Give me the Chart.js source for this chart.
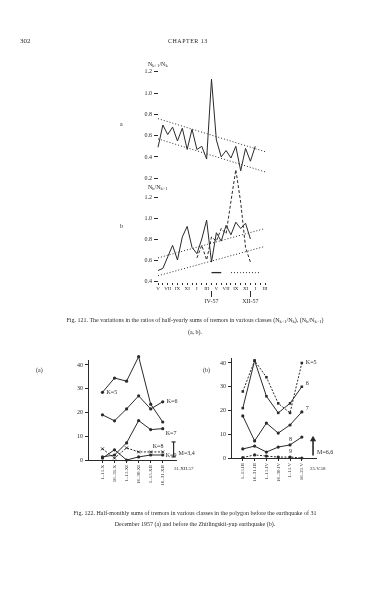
<!DOCTYPE html>
<html>
<head>
<meta charset="utf-8">
<script src="https://cdn.jsdelivr.net/npm/chart.js@4.4.1/dist/chart.umd.min.js"></script>
<style>
  body { margin: 0; background: #fff; }
  #page { position: relative; width: 390px; height: 592px; overflow: hidden; font-family: "Liberation Serif", "DejaVu Serif", serif; color: #2a2a2a; filter: grayscale(1); }
  .t { position: absolute; white-space: nowrap; font-size: 6px; line-height: 1; }
  .cap { position: absolute; font-size: 6px; line-height: 11px; text-align: center; white-space: nowrap; }
  sub { font-size: 4.5px; vertical-align: -1px; }
  canvas { position: absolute; }
</style>
</head>
<body>
<div id="page">
  <div class="t" style="left:20px;top:38px;font-size:7px">302</div>
  <div class="t" style="left:168px;top:38px;letter-spacing:0.5px">CHAPTER 13</div>

  <div class="t" style="left:148px;top:61px">N<sub>k+1</sub>/N<sub>k</sub></div>
  <div class="t" style="left:120px;top:121px">a</div>
  <div class="t" style="left:148px;top:184px">N<sub>k</sub>/N<sub>k+1</sub></div>
  <div class="t" style="left:120px;top:223px">b</div>

  <canvas id="ratios" width="152" height="250" style="left:120px;top:60px"></canvas>

  <div class="cap" style="left:40px;top:315px;width:310px">Fig. 121. The variations in the ratios of half-yearly sums of tremors in various classes (N<sub>k+1</sub>/N<sub>k</sub>), (N<sub>k</sub>/N<sub>k+1</sub>)<br>(a, b).</div>

  <div class="t" style="left:36px;top:367px">(a)</div>
  <div class="t" style="left:203px;top:367px">(b)</div>

  <canvas id="panelA" width="150" height="150" style="left:50px;top:352px"></canvas>
  <canvas id="panelB" width="160" height="150" style="left:195px;top:350px"></canvas>

  <div class="t" style="left:174px;top:466px;font-size:5px">31.XII.57</div>
  <div class="t" style="left:310px;top:466px;font-size:5px">25.V.58</div>

  <div class="cap" style="left:30px;top:508px;width:330px">Fig. 122. Half-monthly sums of tremors in various classes in the polygon before the earthquake of 31<br>December 1957 (a) and before the Zhitlingskii-yup earthquake (b).</div>
</div>

<script>
// top figure: months and the two ratio series
const months = ['V-56','VI-56','VII-56','VIII-56','IX-56','X-56','XI-56','XII-56',
  'I-57','II-57','III-57','IV-57','V-57','VI-57','VII-57','VIII-57','IX-57','X-57','XI-57','XII-57',
  'I-58','II-58','III-58'];
const markedMonths = ['IV-57','XII-57'];

const ratioUp = [0.49,0.70,0.61,0.68,0.55,0.67,0.47,0.66,0.47,0.50,0.38,1.13,0.56,0.40,0.46,0.39,0.50,0.27,0.48,0.36,0.50,null,null];
const trendUpA = [0.76,0.45];
const trendUpB = [0.57,0.26];

const ratioDown = [0.50,0.52,0.63,0.74,0.60,0.82,0.92,0.72,0.66,0.80,0.98,0.58,0.86,0.78,0.93,0.84,0.96,0.90,0.95,0.80,null,null,null];
const ratioDownLate = [null,null,null,null,null,null,null,null,0.62,0.74,0.60,0.82,0.78,0.90,0.85,1.16,1.46,1.15,0.72,0.58,null,null,null];
const trendDownA = [0.62,0.90];
const trendDownB = [0.45,0.73];
const periodLevel = 0.48;
const periodSolid = ['IV-57','VI-57'];
const periodDotted = ['VIII-57','II-58'];

// bottom figure (a)
const periodsA = ['1–15.X','16–31.X','1–15.XI','16–30.XI','1–15.XII','16–31.XII'];
const aK5 = [28.5,34.5,33.2,43.5,23.5,16.0];
const aK6 = [19.0,16.5,21.5,27.0,21.5,24.5];
const aK7 = [1.3,2.1,7.2,16.6,12.8,13.2];
const aK8 = [4.7,0.8,5.1,3.4,3.4,3.4];
const aK9 = [0.8,4.3,0.0,1.3,2.1,2.1];
const aMag = [1.3,7.6];

// bottom figure (b)
const periodsB = ['1–15.III','16–31.III','1–15.IV','16–30.IV','1–15.V','16–25.V'];
const bK5 = [28,41,34,23,19,40];
const bK6 = [21,41,26,19,23,30];
const bK7 = [17.7,7.2,14.7,10.5,13.9,19.4];
const bK8 = [3.8,5.0,2.5,4.6,5.5,8.8];
const bK9 = [0.2,1.3,0.8,0.4,0.4,0.0];
const bMag = [1.0,7.8];

const ink = '#2a2a2a';
Chart.defaults.font.family = '"Liberation Serif", "DejaVu Serif", serif';
Chart.defaults.color = ink;
Chart.defaults.animation = false;
Chart.defaults.plugins.legend.display = false;
Chart.defaults.plugins.tooltip.enabled = false;

// writes a dataset's tag text next to one of its points
const tagPlugin = {
  id: 'tags',
  afterDatasetsDraw(chart) {
    const ctx = chart.ctx;
    chart.data.datasets.forEach((ds, di) => {
      if (!ds.tag) return;
      const p = chart.getDatasetMeta(di).data[ds.tag.i];
      if (!p) return;
      ctx.save();
      ctx.font = '6px "Liberation Serif", serif';
      ctx.fillStyle = ink;
      ctx.textBaseline = 'middle';
      ctx.fillText(ds.tag.text, p.x + ds.tag.dx, p.y + ds.tag.dy);
      ctx.restore();
    });
  }
};

const ends = pair => months.map((m, i) => i === 0 ? pair[0] : i === months.length - 1 ? pair[1] : null);
const span = (range, level) => {
  const a = months.indexOf(range[0]), b = months.indexOf(range[1]);
  return months.map((m, i) => i >= a && i <= b ? level : null);
};
const line = (data, axis, extra) => Object.assign({
  data, yAxisID: axis, borderColor: ink, borderWidth: 1, pointRadius: 0, tension: 0, clip: false
}, extra);

new Chart(document.getElementById('ratios'), {
  type: 'line',
  data: {
    labels: months,
    datasets: [
      line(ratioUp, 'yHigh'),
      line(ends(trendUpA), 'yHigh', { borderDash: [1, 2], spanGaps: true }),
      line(ends(trendUpB), 'yHigh', { borderDash: [1, 2], spanGaps: true }),
      line(ratioDown, 'yLow'),
      line(ratioDownLate, 'yLow', { borderDash: [3, 2] }),
      line(ends(trendDownA), 'yLow', { borderDash: [1, 2], spanGaps: true }),
      line(ends(trendDownB), 'yLow', { borderDash: [1, 2], spanGaps: true }),
      line(span(periodSolid, periodLevel), 'yLow', { borderWidth: 1.3 }),
      line(span(periodDotted, periodLevel), 'yLow', { borderDash: [1, 2] })
    ]
  },
  options: {
    responsive: false,
    devicePixelRatio: 1,
    layout: { padding: { top: 8, right: 7, left: 0, bottom: 0 } },
    scales: {
      x: {
        type: 'category', position: 'bottom', offset: false,
        grid: { drawOnChartArea: false, tickLength: 2, color: ink },
        border: { display: false },
        ticks: { font: { size: 5 }, padding: 1, autoSkip: false, maxRotation: 0,
          callback: (v, i) => i % 2 === 0 ? months[i].split('-')[0] : '' },
        afterFit: s => { s.height = 8; }
      },
      x2: {
        type: 'category', position: 'bottom', offset: false,
        grid: { drawOnChartArea: false, tickLength: 6, color: c => markedMonths.includes(months[c.index]) ? ink : 'transparent' },
        border: { display: false },
        ticks: { font: { size: 6 }, padding: 1, autoSkip: false, maxRotation: 0,
          callback: (v, i) => markedMonths.includes(months[i]) ? months[i] : '' },
        afterFit: s => { s.height = 19; }
      },
      yLow: {
        type: 'linear', position: 'left', stack: 'ratios', stackWeight: 99,
        min: 0.381, max: 1.324,
        grid: { drawOnChartArea: false, tickLength: 4, color: ink },
        border: { display: false },
        ticks: { stepSize: 0.2, includeBounds: false, font: { size: 6 }, padding: 2, callback: v => v.toFixed(1) },
        afterFit: s => { s.width = 38; }
      },
      yHigh: {
        type: 'linear', position: 'left', stack: 'ratios', stackWeight: 116,
        min: 0.146, max: 1.235,
        grid: { drawOnChartArea: false, tickLength: 4, color: ink },
        border: { display: false },
        ticks: { stepSize: 0.2, includeBounds: false, font: { size: 6 }, padding: 2, callback: v => v.toFixed(1) },
        afterFit: s => { s.width = 38; }
      }
    }
  }
});

const pts = arr => arr.map((v, i) => ({ x: i, y: v }));
const magPts = (x, pair) => pair.map(v => ({ x, y: v }));

function panel(id, periods, xMin, xMax, yWidth, padRight, datasets) {
  new Chart(document.getElementById(id), {
    type: 'line',
    data: { datasets },
    plugins: [tagPlugin],
    options: {
      responsive: false,
      devicePixelRatio: 1,
      layout: { padding: { top: 8, right: padRight, left: 0, bottom: 0 } },
      scales: {
        x: {
          type: 'linear', min: xMin, max: xMax,
          grid: { drawOnChartArea: false, tickLength: 3, color: c => periods[c.tick && c.tick.value] !== undefined ? ink : 'transparent' },
          border: { display: true, color: ink, width: 1 },
          ticks: { stepSize: 1, includeBounds: false, autoSkip: false, minRotation: 90, maxRotation: 90,
            font: { size: 5 }, padding: 2, callback: v => periods[v] ?? '' },
          afterFit: s => { s.height = 42; }
        },
        y: {
          min: 0, max: 42.1,
          grid: { drawOnChartArea: false, tickLength: 3, color: ink },
          border: { display: true, color: ink, width: 1 },
          ticks: { stepSize: 10, includeBounds: false, font: { size: 6 }, padding: 2 },
          afterFit: s => { s.width = yWidth; }
        }
      }
    }
  });
}

const series = (data, extra) => Object.assign({
  data: pts(data), borderColor: ink, backgroundColor: ink, borderWidth: 1,
  pointRadius: 1.6, pointBorderWidth: 0, tension: 0, clip: false
}, extra);

panel('panelA', periodsA, -1.2, 6.1, 38, 24, [
  series(aK5, { tag: { text: 'K=5', i: 0, dx: 4, dy: 0 } }),
  series(aK6, { tag: { text: 'K=6', i: 5, dx: 4, dy: 0 } }),
  series(aK7, { tag: { text: 'K=7', i: 5, dx: 3, dy: 5 } }),
  series(aK8, { borderDash: [2, 1.5], pointStyle: 'crossRot', pointRadius: 2, pointBorderWidth: 1, tag: { text: 'K=8', i: 4, dx: 2, dy: -6 } }),
  series(aK9, { tag: { text: 'K=9', i: 5, dx: 3, dy: 0 } }),
  { data: magPts(5.9, aMag), borderColor: ink, borderWidth: 1.2, pointStyle: 'line', pointRadius: 2, pointBorderColor: ink, clip: false,
    tag: { text: 'M=3,4', i: 0, dx: 5, dy: -3 } }
]);

panel('panelB', periodsB, -1.0, 6.2, 36, 39, [
  series(bK5, { borderDash: [2, 1.5], pointStyle: 'rect', pointRadius: 1.8, tag: { text: 'K=5', i: 5, dx: 4, dy: -1 } }),
  series(bK6, { pointStyle: 'rect', pointRadius: 1.8, tag: { text: '6', i: 5, dx: 4, dy: -3 } }),
  series(bK7, { tag: { text: '7', i: 5, dx: 4, dy: -3 } }),
  series(bK8, { tag: { text: '8', i: 4, dx: -1, dy: -6 } }),
  series(bK9, { borderDash: [2, 1.5], tag: { text: '9', i: 4, dx: -1, dy: -6 } }),
  { data: magPts(5.95, bMag), borderColor: ink, borderWidth: 1.6, pointStyle: 'triangle', pointRadius: [0, 2], backgroundColor: ink, clip: false,
    tag: { text: 'M=6,6', i: 0, dx: 4, dy: -3 } }
]);
</script>
</body>
</html>
